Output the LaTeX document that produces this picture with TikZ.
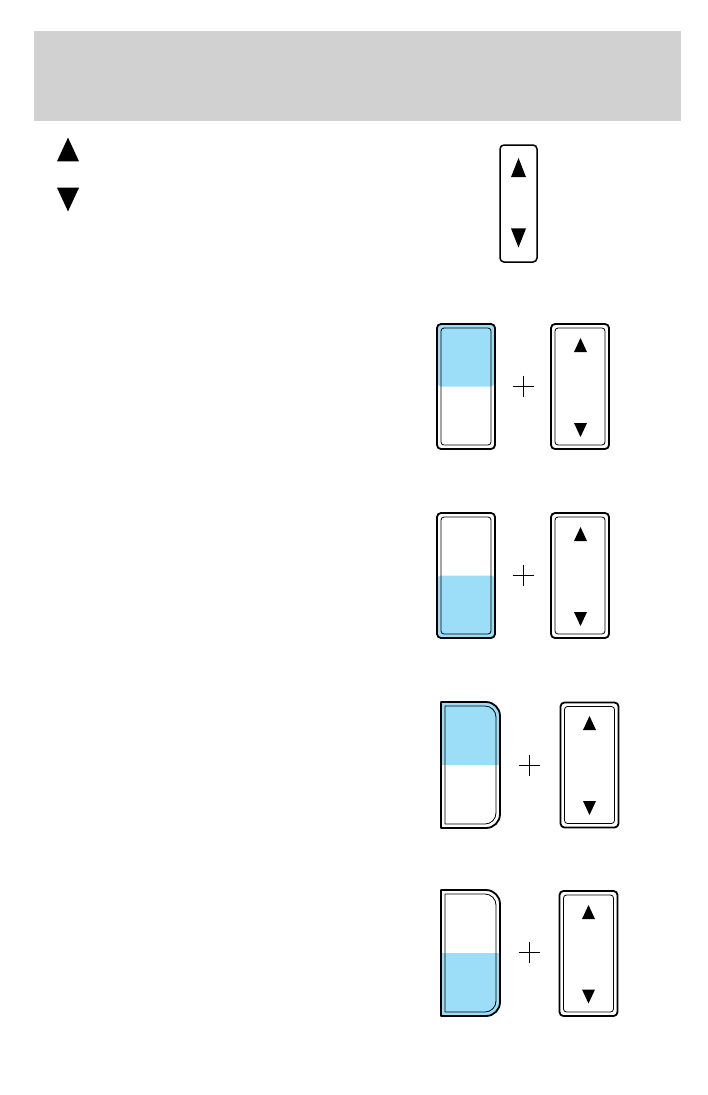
\documentclass[tikz,border=0pt]{standalone}
\usetikzlibrary{positioning}
\definecolor{headgray}{RGB}{209,209,209}
\definecolor{keyblue}{RGB}{156,222,247}

\begin{document}
\begin{tikzpicture}[
  x=1pt, y=-1pt,
  keyframe/.style={draw,line width=1.8pt,rounded corners=4pt,minimum width=58pt,minimum height=125pt,inner sep=0pt},
  keyface/.style={draw,line width=0.8pt,rounded corners=3pt,minimum width=50pt,minimum height=117pt,inner sep=0pt},
  tophalf/.style={path picture={\fill[keyblue] (path picture bounding box.north west) rectangle (path picture bounding box.east);}},
  bottomhalf/.style={path picture={\fill[keyblue] (path picture bounding box.south west) rectangle (path picture bounding box.east);}},
  uptri/.pic={\fill (-6.5,7) -- (0,-7) -- (6.5,7) -- cycle;},
  downtri/.pic={\fill (-6.5,-7) -- (0,7) -- (6.5,-7) -- cycle;},
  plussign/.pic={\draw[line width=0.8pt] (-10.5,0) -- (10.5,0) (0,-10.5) -- (0,10.5);},
  pics/dkey/.style={code={
    \begin{scope}
      \clip (0,0) -- (45,0) arc (270:360:14) -- (59,112) arc (0:90:14) -- (0,126) -- cycle;
      \fill[keyblue] (0,#1) rectangle (59,#1+63);
    \end{scope}
    \draw[line width=1.8pt,line join=round] (0,0) -- (45,0) arc (270:360:14) -- (59,112) arc (0:90:14) -- (0,126) -- cycle;
    \draw[line width=0.8pt,line join=round] (4,4) -- (44,4) arc (270:360:11) -- (55,111) arc (0:90:11) -- (4,122) -- cycle;
  }}
]
  \useasboundingbox (0,0) rectangle (707,1095);
  \node[fill=headgray,minimum width=647pt,minimum height=90pt,inner sep=0pt] (header) at (357.5,76) {};

  % legend arrows
  \pic[scale=1.7] at (68,149.5) {uptri};
  \pic[scale=1.7] at (68,199.5) {downtri};

  % memory switch
  \node[draw,line width=1.5pt,rounded corners=4pt,minimum width=37pt,minimum height=117pt,inner sep=0pt] (memsw) at (518.5,203.5) {};
  \pic[xscale=1.15,yscale=1.36] at (518.5,167.5) {uptri};
  \pic[xscale=1.15,yscale=1.36] at (518.5,238) {downtri};

  % seat 1 forward
  \node[keyframe,tophalf] (seatA) at (466,386.5) {};
  \node[keyface] at (seatA) {};
  \pic at (523,386) {plussign};
  \node[keyframe] (adjA) at (580,386.5) {};
  \node[keyface] at (adjA) {};
  \pic at (580.5,345) {uptri};
  \pic at (580.5,430) {downtri};

  % seat 1 rear
  \node[keyframe,bottomhalf] (seatB) at (466,575.5) {};
  \node[keyface] at (seatB) {};
  \pic at (523,575) {plussign};
  \node[keyframe] (adjB) at (580,575.5) {};
  \node[keyface] at (adjB) {};
  \pic at (580.5,534) {uptri};
  \pic at (580.5,619) {downtri};

  % seat 2 forward
  \pic at (441,702) {dkey=0};
  \pic at (529,765) {plussign};
  \node[keyframe] (adjC) at (589.5,765) {};
  \node[keyface] at (adjC) {};
  \pic at (589.5,723) {uptri};
  \pic at (589.5,808) {downtri};

  % seat 2 rear
  \pic at (441,890) {dkey=63};
  \pic at (529,952) {plussign};
  \node[keyframe] (adjD) at (588.5,953.5) {};
  \node[keyface] at (adjD) {};
  \pic at (588.5,912) {uptri};
  \pic at (588.5,996.5) {downtri};
\end{tikzpicture}
\end{document}
